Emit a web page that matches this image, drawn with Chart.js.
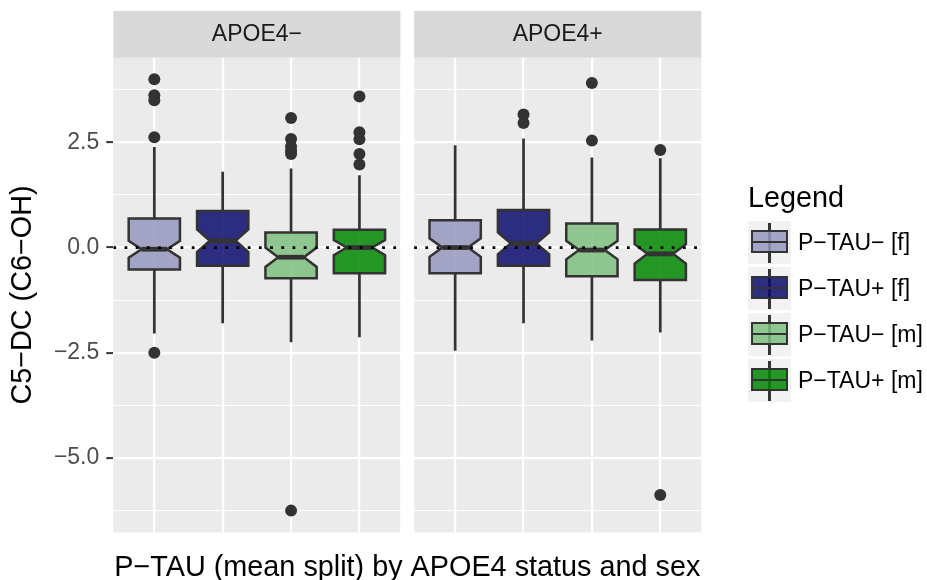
<!DOCTYPE html>
<html>
<head>
<meta charset="utf-8">
<script src="https://cdn.jsdelivr.net/npm/chart.js@4/dist/chart.umd.min.js"></script>
<style>
html, body { margin: 0; padding: 0; background: #fff; }
#wrap { position: relative; width: 927px; height: 580px; font-family: "Liberation Sans", Arial, sans-serif; }
#chart-area { position: absolute; left: 0; top: 0; }
#legend-title { position: absolute; left: 748px; top: 180px; font-size: 28.8px; line-height: 34px; color: #000; }
#legend { position: absolute; left: 748px; top: 219.5px; }
.key-row { display: flex; align-items: center; height: 46px; }
.key { position: relative; width: 43px; height: 43px; background: #f2f2f2; margin-right: 7px; }
.key .whisk { position: absolute; left: 20.3px; top: 1.5px; width: 2.5px; height: 40px; background: #333; }
.key .box { position: absolute; left: 2.7px; top: 9px; width: 37.4px; height: 23.4px; box-sizing: border-box; border: 2.5px solid #333; }
.key .med { position: absolute; left: 2.7px; top: 19.5px; width: 37.4px; height: 2.5px; background: #333; }
.key-label { font-size: 23px; color: #000; white-space: nowrap; }
</style>
</head>
<body>
<div id="wrap">
	<canvas id="chart-area" width="927" height="580"></canvas>
	<div id="legend-title">Legend</div>
	<div id="legend"></div>
</div>
<script>
// facets and groups
var panels = ['APOE4\u2212', 'APOE4+'];
var groups = ['P\u2212TAU\u2212 [f]', 'P\u2212TAU+ [f]', 'P\u2212TAU\u2212 [m]', 'P\u2212TAU+ [m]'];
var groupColors = ['rgba(151,151,191,0.85)', 'rgba(11,11,109,0.85)', 'rgba(127,191,127,0.85)', 'rgba(0,135,0,0.85)'];

// x positions of the boxes, panel 1 then panel 2 (gap of 0.2 between panels)
var positions = [[1, 2, 3, 4], [5.4, 6.4, 7.4, 8.4]];
var panelRanges = [[0.4, 4.6], [4.8, 9.0]];

// box statistics, one row per panel
var whiskerLow  = [[-2.04, -1.80, -2.25, -2.13], [-2.45, -1.80, -2.21, -2.02]];
var q1          = [[-0.52, -0.43, -0.73, -0.61], [-0.61, -0.43, -0.68, -0.77]];
var median      = [[-0.04, 0.16, -0.23, 0.00], [0.00, 0.10, -0.06, -0.15]];
var q3          = [[0.69, 0.87, 0.36, 0.42], [0.65, 0.89, 0.57, 0.43]];
var whiskerHigh = [[2.39, 1.80, 1.88, 1.72], [2.43, 2.59, 2.14, 2.12]];
var notchHalf   = [[0.20, 0.27, 0.23, 0.18], [0.22, 0.26, 0.22, 0.23]];
var outliers = [
	[[4.00, 3.62, 3.50, 2.62, -2.50], [], [3.08, 2.58, 2.40, 2.30, 2.22, -6.25], [3.59, 2.74, 2.57, 2.22, 1.97]],
	[[], [3.16, 2.96], [3.91, 2.54], [2.32, -5.88]]
];

var yTicks = [-6.25, -5, -3.75, -2.5, -1.25, 0, 1.25, 2.5, 3.75];
var FONT = '"Liberation Sans", Arial, sans-serif';

function isMajor(v) {
	return Math.abs(v / 2.5 - Math.round(v / 2.5)) < 1e-6;
}

var outlierPoints = [];
panels.forEach(function (pn, p) {
	groups.forEach(function (gn, g) {
		outliers[p][g].forEach(function (v) { outlierPoints.push({x: positions[p][g], y: v}); });
	});
});

var facetPlugin = {
	id: 'facets',
	beforeDraw: function (chart) {
		var ctx = chart.ctx, area = chart.chartArea, x = chart.scales.x;
		ctx.save();
		panelRanges.forEach(function (r, i) {
			var l = x.getPixelForValue(r[0]), rr = x.getPixelForValue(r[1]);
			ctx.fillStyle = '#ebebeb';
			ctx.fillRect(l, area.top, rr - l, area.bottom - area.top);
			ctx.fillStyle = '#d9d9d9';
			ctx.fillRect(l, area.top - 46.7, rr - l, 46.7);
			ctx.fillStyle = '#1a1a1a';
			ctx.font = '23px ' + FONT;
			ctx.textAlign = 'center';
			ctx.textBaseline = 'middle';
			ctx.fillText(panels[i], (l + rr) / 2, area.top - 23.3);
		});
		ctx.restore();
	},
	beforeDatasetsDraw: function (chart) {
		var ctx = chart.ctx, area = chart.chartArea, x = chart.scales.x, y = chart.scales.y;
		ctx.save();
		// white gap between the two panels
		var g0 = x.getPixelForValue(panelRanges[0][1]), g1 = x.getPixelForValue(panelRanges[1][0]);
		ctx.fillStyle = '#ffffff';
		ctx.fillRect(g0, area.top, g1 - g0, area.bottom - area.top + 2);

		ctx.strokeStyle = '#333333';
		ctx.lineJoin = 'miter';
		for (var p = 0; p < panels.length; p++) {
			for (var g = 0; g < groups.length; g++) {
				var xc = x.getPixelForValue(positions[p][g]);
				var hw = x.getPixelForValue(positions[p][g] + 0.375) - xc;
				var indent = hw * 0.5;
				var yLo = y.getPixelForValue(whiskerLow[p][g]);
				var yQ1 = y.getPixelForValue(q1[p][g]);
				var yMed = y.getPixelForValue(median[p][g]);
				var yQ3 = y.getPixelForValue(q3[p][g]);
				var yHi = y.getPixelForValue(whiskerHigh[p][g]);
				var yNu = y.getPixelForValue(median[p][g] + notchHalf[p][g]);
				var yNl = y.getPixelForValue(median[p][g] - notchHalf[p][g]);

				// whiskers
				ctx.lineWidth = 2.7;
				ctx.beginPath();
				ctx.moveTo(xc, yQ3); ctx.lineTo(xc, yHi);
				ctx.moveTo(xc, yQ1); ctx.lineTo(xc, yLo);
				ctx.stroke();

				// notched box
				ctx.lineWidth = 2.5;
				ctx.beginPath();
				ctx.moveTo(xc - hw, yQ3);
				ctx.lineTo(xc - hw, yNu);
				ctx.lineTo(xc - hw + indent, yMed);
				ctx.lineTo(xc - hw, yNl);
				ctx.lineTo(xc - hw, yQ1);
				ctx.lineTo(xc + hw, yQ1);
				ctx.lineTo(xc + hw, yNl);
				ctx.lineTo(xc + hw - indent, yMed);
				ctx.lineTo(xc + hw, yNu);
				ctx.lineTo(xc + hw, yQ3);
				ctx.closePath();
				ctx.fillStyle = groupColors[g];
				ctx.fill();
				ctx.stroke();

				// median
				ctx.lineWidth = 4.8;
				ctx.beginPath();
				ctx.moveTo(xc - hw + indent, yMed);
				ctx.lineTo(xc + hw - indent, yMed);
				ctx.stroke();
			}
		}
		ctx.restore();
	}
};

var context = document.getElementById('chart-area').getContext('2d');

var config = {
	type: 'scatter',
	data: {
		datasets: [{
			type: 'line',
			data: [{x: 0.4, y: 0}, {x: 4.6, y: 0}, {x: 4.7, y: null}, {x: 4.8, y: 0}, {x: 9.0, y: 0}],
			borderColor: '#000000',
			borderWidth: 2.8,
			borderDash: [2.8, 8.4],
			pointRadius: 0,
			spanGaps: false,
			fill: false
		}, {
			data: outlierPoints,
			pointRadius: 6,
			pointBackgroundColor: '#333333',
			pointBorderWidth: 0
		}]
	},
	options: {
		responsive: false,
		animation: false,
		devicePixelRatio: 1,
		layout: { padding: { left: 0, top: 57.7, right: 225.7, bottom: 0 } },
		plugins: { legend: { display: false }, tooltip: { enabled: false } },
		scales: {
			x: {
				type: 'linear',
				min: 0.4,
				max: 9.0,
				afterBuildTicks: function (scale) {
					scale.ticks = positions[0].concat(positions[1]).map(function (v) { return {value: v}; });
				},
				afterFit: function (scale) { scale.height = 47.7; },
				grid: { color: '#ffffff', lineWidth: 2.2, drawTicks: false },
				border: { display: false },
				ticks: { display: false },
				title: {
					display: true,
					text: 'P\u2212TAU (mean split) by APOE4 status and sex',
					color: '#000000',
					font: { family: FONT, size: 28.8, lineHeight: 0.8 },
					padding: 0
				}
			},
			y: {
				type: 'linear',
				min: -6.765,
				max: 4.51,
				afterBuildTicks: function (scale) {
					scale.ticks = yTicks.map(function (v) { return {value: v}; });
				},
				afterFit: function (scale) { scale.width = 113.3; },
				grid: {
					color: '#ffffff',
					lineWidth: function (c) { return isMajor(c.tick.value) ? 2.2 : 1.1; },
					tickColor: function (c) { return isMajor(c.tick.value) ? '#333333' : 'rgba(0,0,0,0)'; },
					tickWidth: 2,
					tickLength: 7
				},
				border: { display: false },
				ticks: {
					autoSkip: false,
					padding: 7,
					color: '#4d4d4d',
					font: { family: FONT, size: 23 },
					callback: function (v) {
						if (!isMajor(v)) return '';
						var s = Math.abs(v).toFixed(1);
						return v < 0 ? '\u2212' + s : s;
					}
				},
				title: {
					display: true,
					text: 'C5\u2212DC (C6\u2212OH)',
					color: '#000000',
					font: { family: FONT, size: 28.8, lineHeight: 1 },
					padding: { top: 9, bottom: 0 }
				}
			}
		}
	},
	plugins: [facetPlugin]
};

var myChart = new Chart(context, config);

// html legend
var legend = document.getElementById('legend');
groups.forEach(function (name, i) {
	var row = document.createElement('div');
	row.className = 'key-row';
	row.innerHTML = '<div class="key"><div class="whisk"></div><div class="box" style="background:' + groupColors[i] + '"></div><div class="med"></div></div>' +
		'<span class="key-label">' + name + '</span>';
	legend.appendChild(row);
});
</script>
</body>
</html>
